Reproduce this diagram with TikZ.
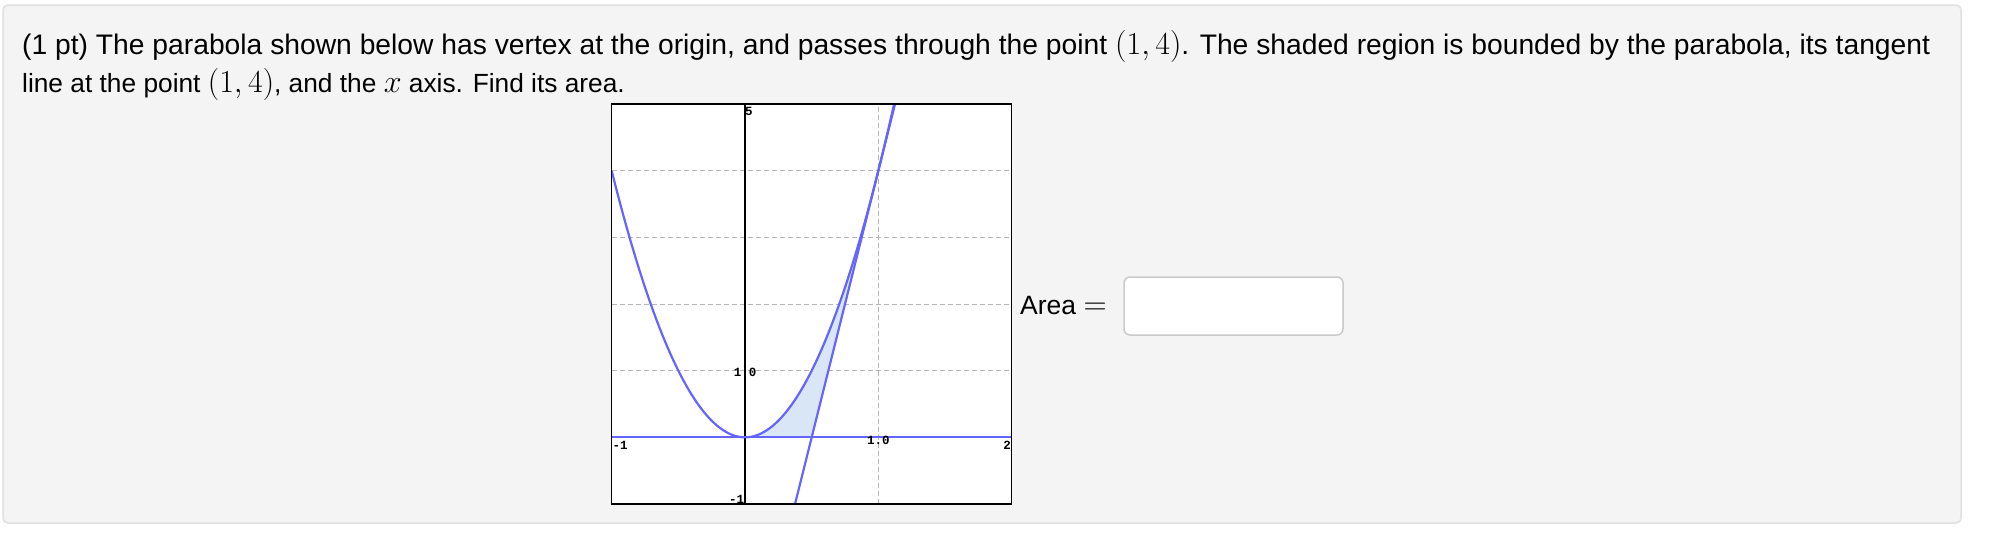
\documentclass[tikz,border=0pt]{standalone}
\usepackage{graphicx}
\usepackage[no-math]{fontspec}
\setmainfont{Liberation Sans}
\newfontfamily\axisfont{Liberation Mono}
\newcommand{\bigmath}[1]{{\fontsize{24.88}{25}\selectfont\scalebox{1.29}{$#1$}}}
\definecolor{panelbg}{RGB}{244,244,244}
\definecolor{panelborder}{RGB}{224,224,224}
\definecolor{curveblue}{RGB}{100,100,255}
\definecolor{shadeblue}{RGB}{216,230,245}
\definecolor{gridgray}{RGB}{180,180,180}
\definecolor{inputborder}{RGB}{202,202,202}
\tikzset{
  bodytext/.style={anchor=base west, inner sep=0pt, font=\fontsize{28}{28}\selectfont},
  curve/.style={curveblue, line width=2.2pt},
  gridline/.style={gridgray, line width=1pt, dash pattern=on 5pt off 3pt},
  axislabel/.style={inner sep=0pt, font=\axisfont\bfseries\fontsize{12.5}{12.5}\selectfont},
  inputbox/.style={draw=inputborder, fill=white, rounded corners=6pt, line width=1.5pt, minimum width=219pt, minimum height=58pt, inner sep=0pt},
}
\begin{document}
\begin{tikzpicture}[x=1pt,y=-1pt]
\useasboundingbox (0,0) rectangle (1992,536);
\fill[white] (0,0) rectangle (1992,536);
\draw[panelborder, fill=panelbg, line width=1.5pt, rounded corners=5pt] (3,5) rectangle (1961,523);
\node[bodytext, font=\fontsize{28.25}{28}\selectfont] (line1) at (22,54) {(1 pt) The parabola shown below has vertex at the origin, and passes through the point \bigmath{(1,4)}. The shaded region is bounded by the parabola, its tangent};
\node[bodytext, font=\fontsize{26.3}{27}\selectfont] (line2) at (22,92) {line at the point \bigmath{(1,4)}, and the \bigmath{x} axis. Find its area.};
% graph box background
\fill[white] (612,105) rectangle (1012,504);
\begin{scope}[shift={(745,437.33)}, x=133.333pt, y=66.667pt]
  \begin{scope}
    \clip (-1,-1) rectangle (2,5);
    \foreach \yy in {1,2,3,4} { \draw[gridline] (-1,\yy) -- (2,\yy); }
    \draw[gridline] (1,-1) -- (1,5);
    \fill[shadeblue] plot[domain=0:1, samples=60, smooth] (\x,{4*\x*\x}) -- (0.5,0) -- cycle;
    \draw[black, line width=1.3pt] (0,-1) -- (0,5);
    \draw[curve] plot[domain=-1:1.13, samples=120, smooth] (\x,{4*\x*\x});
    \draw[curve] (0.375,-1) -- (1.125,5);
    \draw[curve] (-1,0) -- (2,0);
  \end{scope}
  \draw[black, line width=1.5pt] (-1,-1) rectangle (2,5);
  \node[axislabel, anchor=north west] (ytop) at (0,4.96) {5};
  \node[axislabel, anchor=center] (yone) at (0,0.98) {1.0};
  \node[axislabel, anchor=south east] (ybot) at (-0.005,-0.99) {-1};
  \node[axislabel, anchor=north west] (xleft) at (-0.995,-0.06) {-1};
  \node[axislabel, anchor=north] (xone) at (1,0.02) {1.0};
  \node[axislabel, anchor=north east] (xright) at (1.995,-0.06) {2};
\end{scope}
\node[bodytext, font=\fontsize{26.5}{27}\selectfont] (arealabel) at (1020,314) {Area \bigmath{=}};
\node[inputbox] (answer) at (1233.5,306) {};
\end{tikzpicture}
\end{document}
